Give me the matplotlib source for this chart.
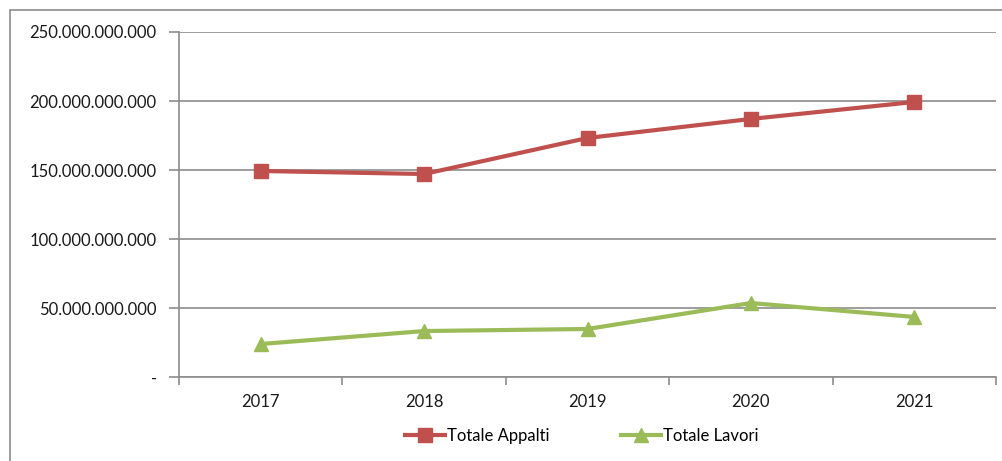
import matplotlib
matplotlib.use("Agg")
import matplotlib.pyplot as plt
from matplotlib.patches import Rectangle
from matplotlib.ticker import FixedLocator, NullFormatter

years = ["2017", "2018", "2019", "2020", "2021"]
totale_appalti = [149.3e9, 147.1e9, 173.2e9, 187.0e9, 199.3e9]
totale_lavori = [23.9e9, 33.3e9, 34.8e9, 53.6e9, 43.5e9]
y_ticks = [0, 50e9, 100e9, 150e9, 200e9, 250e9]
y_labels = ["-", "50.000.000.000", "100.000.000.000", "150.000.000.000",
            "200.000.000.000", "250.000.000.000"]

plt.rcParams['font.family'] = ['Lato', 'DejaVu Sans']
W, H = 1003, 461
fig = plt.figure(figsize=(W / 100, H / 100), dpi=100)
fig.patch.set_facecolor("white")

# outer chart frame (cut at right and bottom)
fig.add_artist(Rectangle((10 / W, -0.1), 1.2, (H - 10) / H + 0.1,
                         transform=fig.transFigure, fill=False,
                         edgecolor="#8c8c8c", linewidth=1.2))

left, right, top, bottom = 179, 996, 32, 377
ax = fig.add_axes([left / W, 1 - bottom / H, (right - left) / W, (bottom - top) / H])

x = list(range(len(years)))
grey = "#8c8c8c"
ax.plot(x, totale_appalti, color="#C0504D", lw=3, marker="s", ms=10,
        label="Totale Appalti", zorder=3)
ax.plot(x, totale_lavori, color="#9BBB59", lw=3, marker="^", ms=10,
        label="Totale Lavori", zorder=3)

ax.set_xlim(-0.5, len(years) - 0.5)
ax.set_ylim(0, 250e9)
ax.set_yticks(y_ticks)
ax.set_yticklabels(y_labels)
ax.set_xticks(x)
ax.set_xticklabels(years)
ax.tick_params(axis="x", which="major", length=0, pad=12, labelsize=12, colors="#000000")
ax.xaxis.set_minor_locator(FixedLocator([i - 0.5 for i in range(len(years) + 1)]))
ax.xaxis.set_minor_formatter(NullFormatter())
ax.tick_params(axis="x", which="minor", length=6, color=grey, width=1.2, direction="out")
ax.tick_params(axis="y", length=7, color=grey, width=1.2, pad=9, labelsize=12)
for lbl in ax.get_yticklabels() + ax.get_xticklabels():
    lbl.set_color("#1a1a1a")

ax.grid(axis="y", color=grey, lw=1.2)
ax.set_axisbelow(True)
for s in ["top", "right"]:
    ax.spines[s].set_visible(False)
for s in ["left", "bottom"]:
    ax.spines[s].set_color(grey)
    ax.spines[s].set_linewidth(1.2)

leg = fig.legend(loc="center", bbox_to_anchor=(0.58, 1 - 436 / H), ncol=2,
                 frameon=False, fontsize=12, handlelength=2.4, handletextpad=0.1,
                 columnspacing=4.3)

fig.savefig("out.png", dpi=100, facecolor="white")
